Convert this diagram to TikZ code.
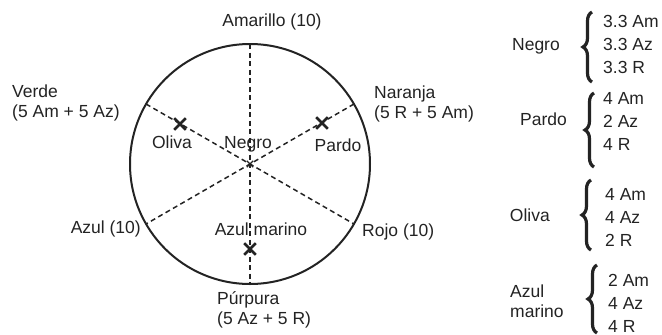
\documentclass[tikz,border=0pt]{standalone}
\usepackage{fontspec}
\setmainfont{Liberation Sans}
\usetikzlibrary{shapes.misc,decorations.pathreplacing}
\definecolor{ink}{RGB}{35,35,35}
\begin{document}
\begin{tikzpicture}[x=1pt,y=-1pt,
  txt/.style={font=\fontsize{17.5}{20}\selectfont, inner sep=0pt, text=ink, align=left},
  lst/.style={font=\fontsize{17.5}{23}\selectfont, inner sep=0pt, text=ink, align=left, anchor=west},
  ring/.style={draw=ink, line width=2pt},
  ray/.style={draw=ink, line width=1.5pt, dash pattern=on 5pt off 3.5pt},
  mix/.style={cross out, draw=ink, line width=2.6pt, minimum size=9pt, inner sep=0pt},
  smallmix/.style={cross out, draw=ink, line width=1.4pt, minimum size=5pt, inner sep=0pt},
  brc/.style={draw=ink, line width=3.2pt, decorate, decoration={brace, amplitude=9pt, aspect=0.5}}]
\useasboundingbox (0,0) rectangle (662,335);

% circle and rays
\coordinate (c) at (250,164);
\draw[ring] (c) circle[radius=120];
\coordinate (top) at (250,44);
\coordinate (bot) at (250,284);
\coordinate (nar) at (354,104);
\coordinate (roj) at (354,224);
\coordinate (ver) at (146,104);
\coordinate (azu) at (146,224);
\draw[ray] (top) -- (bot);
\draw[ray] (ver) -- (roj);
\draw[ray] (nar) -- (azu);

% mixture marks
\node[mix] (xoliva) at (180,124) {};
\node[mix] (xpardo) at (322,123) {};
\node[mix] (xmarino) at (250,249) {};
\node[smallmix] (xnegro) at (250,164) {};

% labels around the circle
\node[txt] (amarillo) at (272,22) {Amarillo (10)};
\node[txt, anchor=west] (verde) at (12,103) {Verde\\(5 Am + 5 Az)};
\node[txt, anchor=west] (naranja) at (374,104) {Naranja\\(5 R + 5 Am)};
\node[txt, anchor=east] (azul) at (141,229) {Azul (10)};
\node[txt, anchor=west] (rojo) at (362,232) {Rojo (10)};
\node[txt, anchor=west] (purpura) at (217,310) {Púrpura\\(5 Az + 5 R)};

% labels inside
\node[txt] (oliva) at (172,142) {Oliva};
\node[txt] (negro) at (248,144) {Negro};
\node[txt] (pardo) at (338,145) {Pardo};
\node[txt] (marino) at (261,229) {Azul marino};

% right column
\node[txt, anchor=east] (rnegro) at (560,46) {Negro};
\draw[brc] (592,82) -- (592,12);
\node[lst] (lnegro) at (603,44) {3.3 Am\\3.3 Az\\3.3 R};

\node[txt, anchor=east] (rpardo) at (567,119) {Pardo};
\draw[brc] (594,167) -- (594,93);
\node[lst] (lpardo) at (603,121) {4 Am\\2 Az\\4 R};

\node[txt, anchor=east] (roliva) at (550,215) {Oliva};
\draw[brc] (591,250) -- (591,180);
\node[lst] (loliva) at (605,217) {4 Am\\4 Az\\2 R};

\node[txt, anchor=west] (rmarino) at (510,301) {Azul\\marino};
\draw[brc] (597,333) -- (597,265);
\node[lst] (lmarino) at (608,303) {2 Am\\4 Az\\4 R};
\end{tikzpicture}
\end{document}
